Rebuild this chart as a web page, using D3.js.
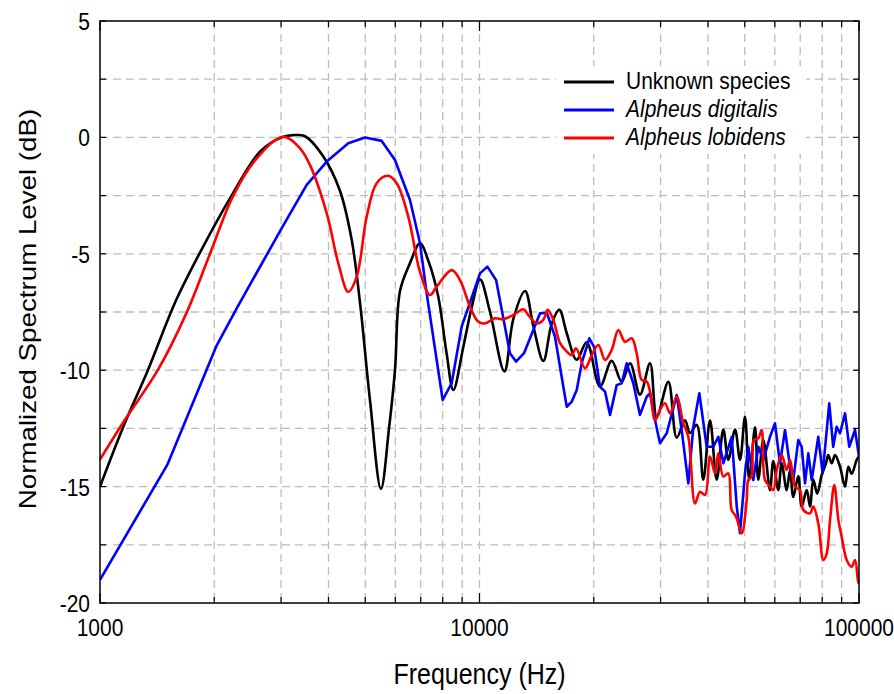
<!DOCTYPE html>
<html>
<head>
<meta charset="utf-8">
<script src="https://cdn.jsdelivr.net/npm/d3@7"></script>
<style>
  html, body { margin: 0; padding: 0; background: #fff; }
  svg { display: block; }
  text { font-family: "Liberation Sans", Arial, sans-serif; fill: #000; }
</style>
</head>
<body>
<svg id="chart"></svg>
<script>
// Spectrum data: [frequency (Hz), level (dB)]
const unknownSpecies = [
  [1000,-15.0],[1162,-12.28],[1338,-9.99],[1576,-7.1],[1827,-5.0],[2222,-2.5],[2640,-0.61],[3010,0.0],
  [3265,0.1],[3469,0.05],[3869,-0.8],[4290,-2.3],[4605,-4.4],[4843,-7.1],[5146,-11.3],[5500,-15.1],[5775,-12.5],
  [5988,-10.0],[6173,-6.6],[6559,-5.4],[6970,-4.55],[7330,-5.3],[7778,-6.8],[8195,-9.3],[8531,-10.85],
  [9064,-9.0],[9537,-7.3],[10030,-6.1],[10660,-7.5],[11630,-10.05],[12280,-7.8],[13180,-6.6],[13860,-8.1],
  [14730,-9.6],[15500,-8.0],[16230,-7.4],[16970,-8.4],[18040,-9.55],[19160,-8.8],[20770,-10.7],[22300,-9.6],
  [23700,-10.5],[24930,-9.7],[26480,-11.05],[28140,-9.7],[29310,-12.0],[31450,-10.5],[33090,-12.9],
  [34790,-12.15],[35860,-12.7],[37360,-12.35],[38880,-14.7],[40500,-12.15],[42170,-14.7],[43900,-12.55],
  [45250,-13.85],[47140,-12.55],[48580,-13.85],[50070,-12.0],[51390,-14.7],[53210,-12.45],[54280,-14.7],
  [55950,-13.0],[58280,-15.15],[59440,-13.9],[61280,-15.15],[62550,-14.0],[64490,-15.15],[65800,-14.3],
  [67130,-15.45],[69180,-14.55],[70630,-15.85],[72810,-15.15],[74280,-15.85],[75790,-14.7],[77610,-15.3],
  [79740,-14.5],[81850,-14.0],[83000,-13.65],[84720,-14.0],[86460,-13.65],[89130,-14.15],[91870,-15.0],
  [93730,-14.15],[95660,-14.45],[98610,-13.85],[100000,-13.7]
];

const alpheusDigitalis = [
  [1000,-19.0],[1504,-14.07],[2024,-8.98],[2292,-7.34],[3012,-3.9],[3505,-2.04],[3958,-1.04],[4511,-0.25],
  [4992,0.0],[5525,-0.15],[5988,-0.97],[6559,-2.69],[6970,-4.55],[7258,-6.7],[7998,-11.28],[8446,-10.56],
  [8975,-8.13],[10030,-5.84],[10490,-5.55],[11060,-6.13],[12030,-9.27],[12480,-9.63],[13100,-9.27],
  [14430,-7.56],[15040,-7.53],[15810,-8.56],[16630,-10.71],[16980,-11.57],[17500,-11.35],[18040,-10.85],
  [18590,-9.7],[19470,-8.63],[20030,-8.99],[20770,-10.71],[21420,-10.92],[22080,-11.92],[22990,-10.64],
  [23700,-10.56],[24420,-9.7],[25430,-10.56],[26480,-11.92],[27580,-11.14],[28140,-10.99],[29010,-12.14],
  [29890,-13.14],[31140,-12.71],[33090,-11.07],[34100,-12.57],[35500,-14.86],[36600,-12.43],[37950,-10.99],
  [39690,-13.29],[41310,-13.29],[42590,-12.86],[43900,-14.0],[46200,-12.86],[47630,-15.86],[48580,-17.0],
  [50070,-14.43],[51080,-13.29],[52660,-14.72],[54280,-13.29],[55950,-13.86],[58280,-12.86],[60060,-12.28],
  [61910,-14.0],[63830,-12.57],[65800,-14.14],[67130,-14.72],[69180,-13.0],[70630,-13.29],[72070,-14.86],
  [73530,-13.57],[75050,-14.72],[78110,-12.86],[80220,-14.43],[83480,-11.42],[85510,-13.29],[87330,-12.43],
  [89130,-12.71],[91870,-11.85],[94270,-13.29],[97610,-12.57],[100000,-13.7]
];

const alpheusLobidens = [
  [1000,-13.84],[1162,-12.14],[1421,-9.99],[1688,-7.56],[1949,-5.0],[2245,-2.5],[2588,-0.9],[3041,0.03],
  [3366,-0.47],[3576,-1.19],[3958,-3.26],[4246,-5.41],[4511,-6.63],[4748,-5.98],[5042,-3.41],
  [5358,-1.97],[5730,-1.65],[6050,-1.97],[6493,-3.41],[6970,-5.78],[7405,-6.77],[7715,-6.41],[8446,-5.7],
  [8885,-6.13],[9441,-7.27],[9927,-7.92],[10340,-7.99],[10990,-7.77],[11550,-7.81],[12280,-7.63],
  [13050,-7.38],[13450,-7.63],[14150,-7.99],[14730,-7.84],[15120,-7.41],[15650,-7.84],[16300,-8.84],
  [16980,-9.2],[17500,-9.35],[17960,-9.06],[18970,-9.92],[19760,-9.35],[20570,-8.92],[21420,-9.56],
  [22300,-9.13],[23220,-8.27],[24170,-8.78],[25180,-8.63],[25950,-9.27],[26760,-10.42],[27580,-10.49],
  [28140,-10.92],[29010,-12.14],[29890,-11.71],[30810,-11.42],[31770,-11.85],[33090,-11.14],[34440,-12.28],
  [35500,-12.86],[36980,-15.72],[38110,-15.22],[39290,-15.36],[40500,-13.71],[41750,-14.43],[42590,-13.57],
  [43900,-14.57],[45250,-14.43],[46160,-16.0],[47430,-16.29],[49090,-17.01],[50590,-15.58],[51080,-14.72],
  [52120,-14.57],[52860,-13.0],[54280,-12.93],[55390,-12.57],[56540,-14.72],[58280,-15.0],[59440,-15.15],
  [60700,-14.29],[62550,-13.64],[64490,-14.29],[65800,-13.86],[67830,-15.0],[69900,-15.15],[71320,-16.0],
  [74280,-16.15],[75790,-15.86],[78110,-16.58],[80550,-18.15],[82210,-17.87],[83890,-16.43],[86080,-14.93],
  [88220,-16.43],[90030,-17.15],[92810,-18.15],[95660,-18.44],[97610,-18.15],[99580,-19.15],[100000,-18.9]
];

const seriesNames = ["Unknown species", "Alpheus digitalis", "Alpheus lobidens"];
const seriesColors = ["#000000", "#0000ff", "#ff0000"];
const xTickLabels = [1000, 10000, 100000];
const yTickLabels = [5, 0, -5, -10, -15, -20];

// Dimensions
const width = 894;
const height = 694;
const margin = { top: 21, right: 35, bottom: 91, left: 100 };
const textStretch = 1.18;  // the figure's lettering is a bit taller than wide

const svg = d3.select("#chart")
    .attr("width", width)
    .attr("height", height);

const x = d3.scaleLog()
    .domain([1000, 100000])
    .range([margin.left, width - margin.right]);

const y = d3.scaleLinear()
    .domain([-20, 5])
    .range([height - margin.bottom, margin.top]);

const x0 = x.range()[0], x1 = x.range()[1];
const y0 = y.range()[0], y1 = y.range()[1];

const xTicks = x.ticks();           // 1000, 2000, ... 100000
const yTicks = d3.range(-20, 5.01, 2.5);

// Grid lines (dashed, light grey)
const grid = svg.append("g").attr("class", "grid")
    .style("stroke", "#bdbdbd")
    .style("stroke-width", 1.3)
    .style("stroke-dasharray", "8,5");

grid.selectAll(".vgrid")
    .data(xTicks.filter(d => d > 1000 && d < 100000))
    .enter().append("line")
    .attr("x1", d => x(d)).attr("x2", d => x(d))
    .attr("y1", y1).attr("y2", y0);

grid.selectAll(".hgrid")
    .data(yTicks.filter(d => d > -20 && d < 5))
    .enter().append("line")
    .attr("x1", x0).attr("x2", x1)
    .attr("y1", d => y(d)).attr("y2", d => y(d));

// Tick marks, pointing inward on all four sides
const ticks = svg.append("g").style("stroke", "#000").style("stroke-width", 1.2);
const isMajor = d => xTickLabels.includes(d);

xTicks.forEach(d => {
    const len = isMajor(d) ? 10 : 6;
    ticks.append("line").attr("x1", x(d)).attr("x2", x(d)).attr("y1", y0).attr("y2", y0 - len);
    ticks.append("line").attr("x1", x(d)).attr("x2", x(d)).attr("y1", y1).attr("y2", y1 + len);
});
yTicks.forEach(d => {
    ticks.append("line").attr("x1", x0).attr("x2", x0 + 6).attr("y1", y(d)).attr("y2", y(d));
    ticks.append("line").attr("x1", x1).attr("x2", x1 - 6).attr("y1", y(d)).attr("y2", y(d));
});

// Legend background hides the grid behind it
const legendX = 564, legendY = 82, legendStep = 28;
svg.append("rect")
    .attr("x", 556).attr("y", 66)
    .attr("width", 250).attr("height", 88)
    .style("fill", "#fff");

// Curves
svg.append("clipPath").attr("id", "plot-clip")
    .append("rect")
    .attr("x", x0).attr("y", y1)
    .attr("width", x1 - x0).attr("height", y0 - y1);

const smoothLine = d3.line()
    .x(d => x(d[0]))
    .y(d => y(d[1]))
    .curve(d3.curveCatmullRom.alpha(0.5));

const straightLine = d3.line()
    .x(d => x(d[0]))
    .y(d => y(d[1]));

const curves = svg.append("g").attr("clip-path", "url(#plot-clip)");

// draw order: black, blue, red (red on top as in the figure)
[[unknownSpecies, smoothLine], [alpheusDigitalis, straightLine], [alpheusLobidens, smoothLine]]
    .forEach(([data, gen], i) => {
        curves.append("path")
            .datum(data)
            .attr("d", gen)
            .style("fill", "none")
            .style("stroke", seriesColors[i])
            .style("stroke-width", 2.6)
            .style("stroke-linejoin", "round");
    });

// Plot frame
svg.append("rect")
    .attr("x", x0).attr("y", y1)
    .attr("width", x1 - x0).attr("height", y0 - y1)
    .style("fill", "none")
    .style("stroke", "#000")
    .style("stroke-width", 1.5);

// Tick labels
svg.selectAll(".ylab")
    .data(yTickLabels)
    .enter().append("text")
    .attr("transform", d => `translate(90,${y(d)}) scale(1,${textStretch})`)
    .attr("dy", "0.36em")
    .attr("text-anchor", "end")
    .style("font-size", "21px")
    .text(d => d);

svg.selectAll(".xlab")
    .data(xTickLabels)
    .enter().append("text")
    .attr("transform", d => `translate(${x(d)},636) scale(1,${textStretch})`)
    .attr("text-anchor", "middle")
    .style("font-size", "21px")
    .text(d => d);

// Axis titles
svg.append("text")
    .attr("transform", `translate(${(x0 + x1) / 2},684) scale(1,${textStretch})`)
    .attr("text-anchor", "middle")
    .style("font-size", "25px")
    .text("Frequency (Hz)");

svg.append("text")
    .attr("transform", `translate(36,309) scale(1,${textStretch}) rotate(-90)`)
    .attr("text-anchor", "middle")
    .style("font-size", "23.5px")
    .text("Normalized Spectrum Level (dB)");

// Legend entries
seriesNames.forEach((name, i) => {
    const ly = legendY + i * legendStep;
    svg.append("line")
        .attr("x1", legendX).attr("x2", legendX + 50)
        .attr("y1", ly).attr("y2", ly)
        .style("stroke", seriesColors[i])
        .style("stroke-width", 3);
    svg.append("text")
        .attr("transform", `translate(${legendX + 62},${ly + 7}) scale(1,${textStretch})`)
        .style("font-size", "21px")
        .style("font-style", i === 0 ? "normal" : "italic")
        .text(name);
});
</script>
</body>
</html>
